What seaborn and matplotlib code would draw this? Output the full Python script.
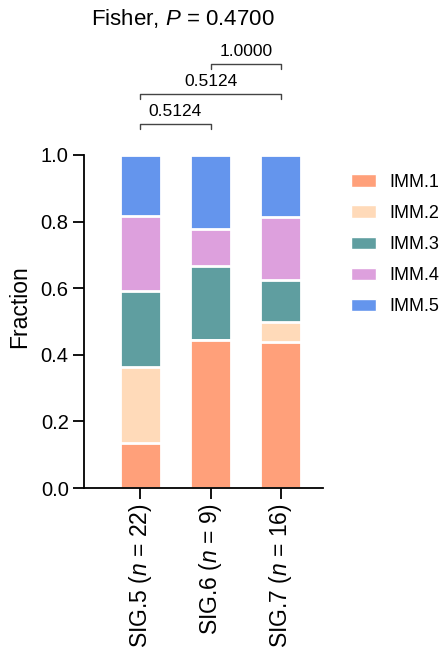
import matplotlib
matplotlib.use("Agg")
import matplotlib.pyplot as plt
import matplotlib.patches as mpatches
import numpy as np
import pandas as pd
import seaborn as sns

# Sample counts per signature group, split by immune subtype
groups = ["SIG.5", "SIG.6", "SIG.7"]
group_n = [22, 9, 16]
subtypes = ["IMM.1", "IMM.2", "IMM.3", "IMM.4", "IMM.5"]
counts = {
    "IMM.1": [3, 4, 7],
    "IMM.2": [5, 0, 1],
    "IMM.3": [5, 2, 2],
    "IMM.4": [5, 1, 3],
    "IMM.5": [4, 2, 3],
}
colors = ["#FFA07A", "#FFDAB9", "#5F9EA0", "#DDA0DD", "#6495ED"]

# Pairwise Fisher test results: (group a, group b, p-value)
pair_tests = [("SIG.5", "SIG.6", 0.5124), ("SIG.5", "SIG.7", 0.5124), ("SIG.6", "SIG.7", 1.0000)]
overall_p = 0.4700

sns.set_theme(style="ticks")
plt.rcParams["font.family"] = ["Liberation Sans", "DejaVu Sans"]
plt.rcParams["mathtext.fontset"] = "custom"
plt.rcParams["mathtext.rm"] = "Liberation Sans"
plt.rcParams["mathtext.it"] = "Liberation Sans:italic"
for key in ["text.color", "axes.labelcolor", "xtick.color", "ytick.color", "axes.edgecolor"]:
    plt.rcParams[key] = "black"

fig = plt.figure(figsize=(4.41, 6.52), dpi=100)
ax = fig.add_axes([0.1905, 0.2515, 0.542, 0.5108])

labels = [f"{g} ($\\mathit{{n}}$ = {n})" for g, n in zip(groups, group_n)]
df = pd.DataFrame(counts, index=labels)
frac = df.div(df.sum(axis=1), axis=0)
cum = frac.cumsum(axis=1)

# Stack by drawing cumulative heights from the top layer down
for sub, col in reversed(list(zip(subtypes, colors))):
    sns.barplot(x=cum.index, y=cum[sub].values, color=col, width=0.58,
                edgecolor="white", linewidth=2, saturation=1, ax=ax)

ax.set_ylim(0, 1)
ax.set_xlim(-0.8, 2.6)
ax.set_yticks([0, 0.2, 0.4, 0.6, 0.8, 1.0])
ax.set_yticklabels([f"{v:.1f}" for v in [0, 0.2, 0.4, 0.6, 0.8, 1.0]])
ax.set_ylabel("Fraction", fontsize=16.5)
ax.yaxis.set_label_coords(-0.22, 0.545)
ax.set_xlabel("")
ax.tick_params(axis="both", length=8, width=1.3, color="black", pad=3)
ax.tick_params(axis="y", labelsize=14.5)
ax.tick_params(axis="x", labelsize=16.5, labelrotation=90)
for s in ["top", "right"]:
    ax.spines[s].set_visible(False)
for s in ["left", "bottom"]:
    ax.spines[s].set_linewidth(1.3)
    ax.spines[s].set_color("black")

# Significance brackets
pos = {g: i for i, g in enumerate(groups)}
levels = [1.093, 1.183, 1.273]
for (a, b, p), yb in zip(pair_tests, levels):
    x1, x2 = pos[a], pos[b]
    ax.plot([x1, x1, x2, x2], [yb - 0.016, yb, yb, yb - 0.016], color="#444444",
            lw=1, clip_on=False)
    ax.text((x1 + x2) / 2, yb + 0.014, f"{p:.4f}", ha="center", va="bottom",
            fontsize=12.5, clip_on=False)

fig.text(182.5 / 441, 1 - 18 / 652, f"Fisher, $\\mathit{{P}}$ = {overall_p:.4f}",
         ha="center", va="center", fontsize=16)

handles = [mpatches.Patch(facecolor=c, edgecolor="white", label=s) for s, c in zip(subtypes, colors)]
fig.legend(handles=handles, loc="upper left", bbox_to_anchor=(351 / 441, 1 - 174 / 652),
           frameon=False, fontsize=13, handlelength=1.4, handleheight=0.7,
           handletextpad=0.7, labelspacing=0.78, borderaxespad=0, borderpad=0)

fig.savefig("out.png", dpi=100)
